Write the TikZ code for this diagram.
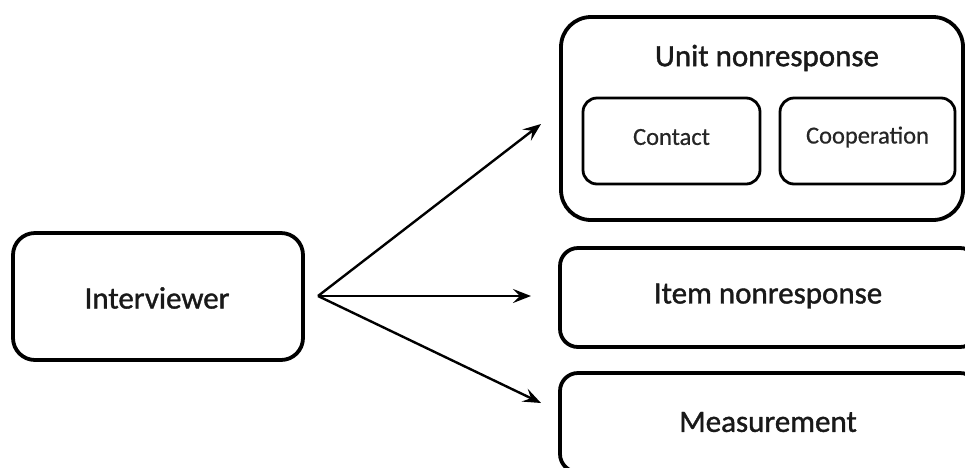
\documentclass[tikz,border=0pt]{standalone}
\usepackage{fontspec}
\setmainfont{Carlito}
\newfontfamily\heavyfont[FakeBold=1.2]{Carlito}
\newfontfamily\midfont[FakeBold=0.6]{Carlito}
\usetikzlibrary{arrows.meta}
\begin{document}
\begin{tikzpicture}[x=1pt,y=-1pt,
  bigbox/.style={draw=black, line width=3.8pt, rounded corners=18pt, inner sep=0pt},
  smallbox/.style={draw=black, line width=2.8pt, rounded corners=14pt, inner sep=0pt},
  biglabel/.style={font=\heavyfont\fontsize{31}{34}\selectfont, text=black!90},
  smalllabel/.style={font=\midfont\fontsize{24.5}{27}\selectfont, text=black!85},
  arr/.style={line width=2.4pt, -{Stealth[length=18pt,width=14pt,inset=7pt]}}]
\useasboundingbox (0,0) rectangle (965,467);
\clip (0,0) rectangle (965,467);
% boxes
\node[bigbox, rounded corners=22pt, minimum width=290pt, minimum height=127pt] (int) at (158,296.5) {};
\node[biglabel] (intl) at (157,298) {Interviewer};
\node[bigbox, rounded corners=30pt, minimum width=402pt, minimum height=203pt] (unit) at (762,118.5) {};
\node[biglabel] (unitl) at (767,58) {Unit nonresponse};
\node[smallbox, minimum width=177pt, minimum height=86pt] (contact) at (671.5,141) {};
\node[smalllabel] (contactl) at (671.5,137) {Contact};
\node[smallbox, minimum width=175pt, minimum height=86pt] (coop) at (867.5,141) {};
\node[smalllabel] (coopl) at (867.5,137) {Cooperation};
\node[bigbox, minimum width=418pt, minimum height=99pt] (item) at (769,297.5) {};
\node[biglabel] (iteml) at (768,296) {Item nonresponse};
\node[bigbox, minimum width=418pt, minimum height=99pt] (meas) at (769,422.5) {};
\node[biglabel] (measl) at (768,422) {Measurement};
% arrows
\coordinate (src) at (318,296);
\coordinate (e1) at (541,124);
\coordinate (e2) at (531,296);
\coordinate (e3) at (541,403);
\draw[arr] (src) -- (e1);
\draw[arr] (src) -- (e2);
\draw[arr] (src) -- (e3);
\end{tikzpicture}
\end{document}
